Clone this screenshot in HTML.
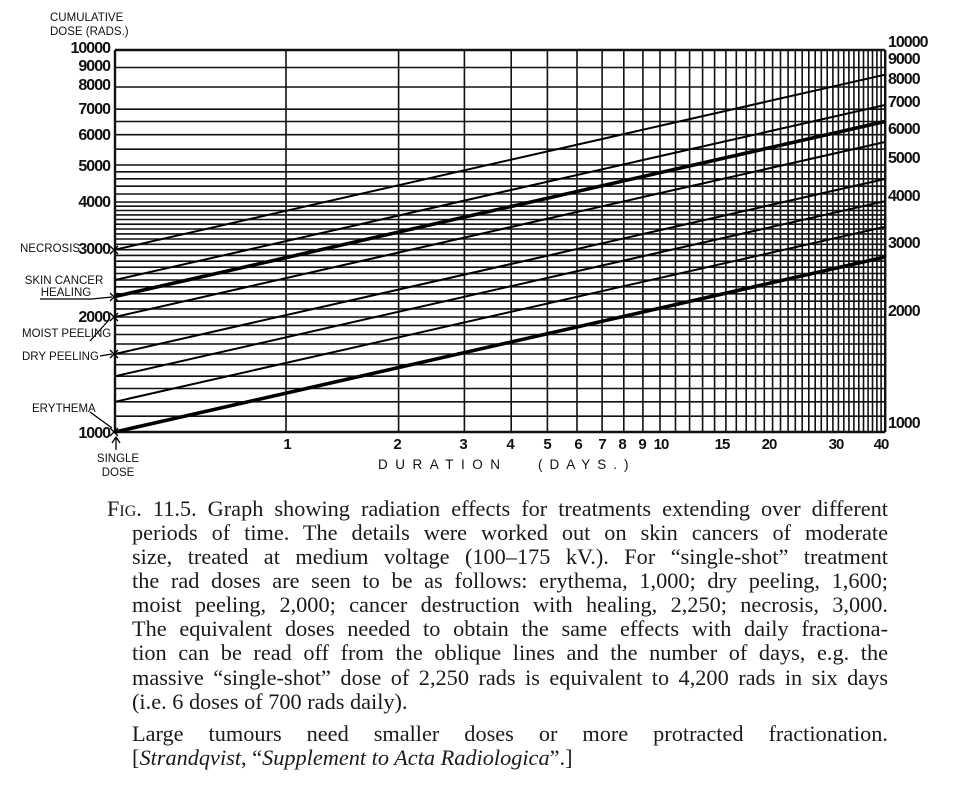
<!DOCTYPE html>
<html><head><meta charset="utf-8"><style>
html,body{margin:0;padding:0;background:#fff;}
body{width:963px;height:792px;position:relative;overflow:hidden;}
svg{position:absolute;left:0;top:0;}
.cap{position:absolute;font-family:"Liberation Serif",serif;font-size:22.3px;color:#1a1a1a;white-space:nowrap;line-height:24px;}
.j{text-align:justify;text-align-last:justify;white-space:normal;}
</style></head><body>
<svg width="963" height="792" viewBox="0 0 963 792" xmlns="http://www.w3.org/2000/svg">
<g stroke="#111" stroke-width="1.6" fill="none">
<path d="M115 50H885M115 67.5H885M115 87H885M115 109.2H885M115 121.5H885M115 134.7H885M115 149.2H885M115 165H885M115 171.8H885M115 178.8H885M115 186.2H885M115 194H885M115 202H885M115 206.2H885M115 210.5H885M115 214.9H885M115 219.5H885M115 224.2H885M115 229H885M115 233.9H885M115 239H885M115 244.3H885M115 249.7H885M115 255.4H885M115 261.2H885M115 267.2H885M115 273.5H885M115 280H885M115 286.8H885M115 293.8H885M115 301.2H885M115 308.9H885M115 317H885M115 325.5H885M115 334.5H885M115 344H885M115 354H885M115 364.7H885M115 376.2H885M115 388.5H885M115 401.8H885M115 416.2H885M115 432H885"/>
<path d="M115 50V432M286 50V432M398.6 50V432M464.4 50V432M511.2 50V432M547.4 50V432M577 50V432M602.1 50V432M623.8 50V432M642.9 50V432M660 50V432M675.5 50V432M689.6 50V432M702.6 50V432M714.6 50V432M725.9 50V432M736.3 50V432M746.2 50V432M755.5 50V432M764.3 50V432M772.6 50V432M780.5 50V432M788.1 50V432M795.3 50V432M802.2 50V432M808.8 50V432M815.2 50V432M821.3 50V432M827.2 50V432M832.9 50V432M838.4 50V432M843.8 50V432M848.9 50V432M853.9 50V432M858.8 50V432M863.5 50V432M868.1 50V432M872.5 50V432M876.9 50V432M881.1 50V432M885.2 50V432"/>
</g>
<g stroke="#111" stroke-width="2.4" fill="none">
<path d="M115 50H885.2M115 432H885.2M115 50V432M885.2 50V432"/>
</g>
<g stroke="#000" stroke-width="2" fill="none">
<path d="M115 249.7L885 74.7M115 280L885 105M115 317L885 142M115 354L885 179M115 376.2L885 201.2M115 401.8L885 226.8"/>
</g>
<g stroke="#000" stroke-width="3.6" fill="none">
<path d="M115 296.5L885 121.5M115 432L885 257"/>
</g>
<g stroke="#000" stroke-width="1.3" fill="none">
<path d="M110 246l8 8M118 246l-8 8M110 293l8 8M118 293l-8 8M110 313l8 8M118 313l-8 8M110 350l8 8M118 350l-8 8M110 428l8 8M118 428l-8 8"/>
<path d="M40 299L92 299L112 297M100 356L112 354M90 341L108 321M90 412L112 428M116 450V438M112 443l4 -6l4 6"/>
</g>
<g font-family="Liberation Sans, sans-serif" font-weight="bold" font-size="16" fill="#111" letter-spacing="-1">
<g text-anchor="end">
<text x="110" y="53">10000</text><text x="110" y="71">9000</text><text x="110" y="90">8000</text><text x="110" y="114">7000</text><text x="110" y="140">6000</text><text x="110" y="171">5000</text><text x="110" y="207">4000</text><text x="110" y="254">3000</text><text x="110" y="322">2000</text><text x="110" y="438">1000</text>
</g>
<g>
<text x="888" y="47">10000</text><text x="888" y="64">9000</text><text x="888" y="84">8000</text><text x="888" y="107">7000</text><text x="888" y="134">6000</text><text x="888" y="163">5000</text><text x="888" y="201">4000</text><text x="888" y="248">3000</text><text x="888" y="316">2000</text><text x="888" y="428">1000</text>
</g>
<g text-anchor="middle" font-size="15">
<text x="287" y="449">1</text><text x="397" y="449">2</text><text x="463" y="449">3</text><text x="510" y="449">4</text><text x="547" y="449">5</text><text x="578" y="449">6</text><text x="602" y="449">7</text><text x="622" y="449">8</text><text x="642" y="449">9</text><text x="661" y="449">10</text><text x="722" y="449">15</text><text x="769" y="449">20</text><text x="836" y="449">30</text><text x="881" y="449">40</text>
</g>
</g>
<g font-family="Liberation Sans, sans-serif" font-size="11.5" fill="#111">
<text x="50" y="21">CUMULATIVE</text>
<text x="50" y="35">DOSE (RADS.)</text>
<text x="20" y="252">NECROSIS</text>
<text x="64" y="284" text-anchor="middle">SKIN CANCER</text>
<text x="66" y="296" text-anchor="middle">HEALING</text>
<text x="22" y="337">MOIST PEELING</text>
<text x="22" y="360">DRY PEELING</text>
<text x="32" y="412">ERYTHEMA</text>
<text x="118" y="462" text-anchor="middle">SINGLE</text>
<text x="118" y="476" text-anchor="middle">DOSE</text>
<text x="378" y="469" font-size="13.5" letter-spacing="7.5">DURATION</text>
<text x="538" y="469" font-size="13.5" letter-spacing="7">(DAYS.)</text>
</g>
</svg>
<div class="cap" style="left:107px;top:497px;width:781px;"><div class="j">F<span style="font-size:16px">IG</span>. 11.5. Graph showing radiation effects for treatments extending over different</div></div>
<div class="cap j" style="left:132px;top:521px;width:756px;">periods of time. The details were worked out on skin cancers of moderate</div>
<div class="cap j" style="left:132px;top:545px;width:756px;">size, treated at medium voltage (100–175 kV.). For “single-shot” treatment</div>
<div class="cap j" style="left:132px;top:569px;width:756px;">the rad doses are seen to be as follows: erythema, 1,000; dry peeling, 1,600;</div>
<div class="cap j" style="left:132px;top:593px;width:756px;">moist peeling, 2,000; cancer destruction with healing, 2,250; necrosis, 3,000.</div>
<div class="cap j" style="left:132px;top:617px;width:756px;">The equivalent doses needed to obtain the same effects with daily fractiona-</div>
<div class="cap j" style="left:132px;top:641px;width:756px;">tion can be read off from the oblique lines and the number of days, e.g. the</div>
<div class="cap j" style="left:132px;top:666px;width:756px;">massive “single-shot” dose of 2,250 rads is equivalent to 4,200 rads in six days</div>
<div class="cap" style="left:132px;top:690px;">(i.e. 6 doses of 700 rads daily).</div>
<div class="cap j" style="left:132px;top:722px;width:756px;">Large tumours need smaller doses or more protracted fractionation.</div>
<div class="cap" style="left:132px;top:746px;">[<i>Strandqvist</i>, “<i>Supplement to Acta Radiologica</i>”.]</div>
</body></html>
